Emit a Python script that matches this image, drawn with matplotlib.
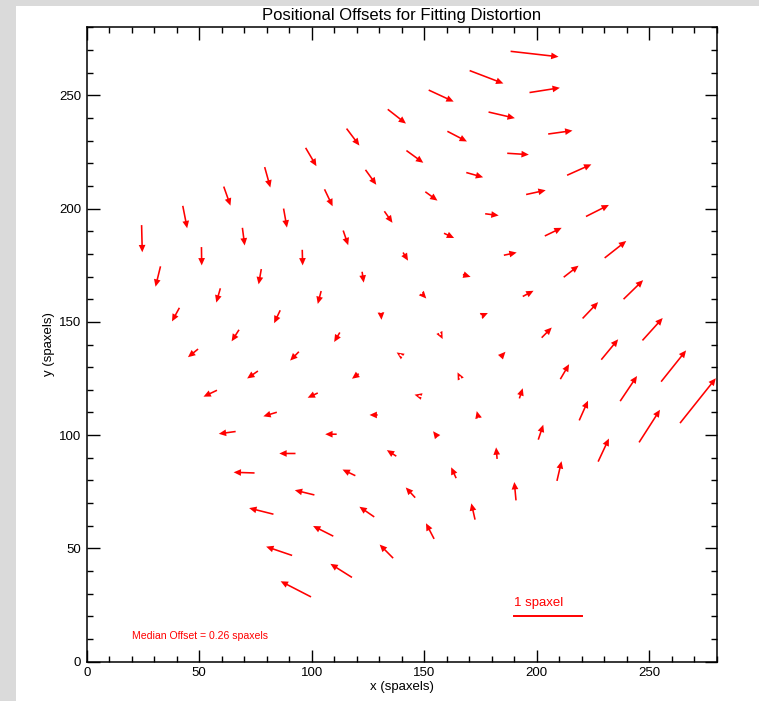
import matplotlib
matplotlib.use("Agg")
import matplotlib.pyplot as plt
import numpy as np
from matplotlib.patches import Rectangle
from matplotlib.ticker import MultipleLocator

plt.rcParams['font.family'] = ['Liberation Sans', 'DejaVu Sans']

# fibre positions (spaxels), one list per row of the rotated grid
x_rows = [
    [24.4, 42.7, 60.9, 79.1, 97.3, 115.5, 133.8, 152.0, 170.2, 188.4],
    [32.8, 51.0, 69.2, 87.5, 105.7, 123.9, 142.1, 160.3, 178.6, 196.8],
    [41.2, 59.4, 77.6, 95.8, 114.0, 132.3, 150.5, 168.7, 186.9, 205.1],
    [49.5, 67.7, 86.0, 104.2, 122.4, 140.6, 158.8, 177.1, 195.3, 213.5],
    [57.9, 76.1, 94.3, 112.5, 130.8, 149.0, 167.2, 185.4, 203.6, 221.9],
    [66.2, 84.5, 102.7, 120.9, 139.1, 157.3, 175.6, 193.8, 212.0, 230.2],
    [74.6, 92.8, 111.1, 129.3, 147.5, 165.7, 183.9, 202.2, 220.4, 238.6],
    [83.0, 101.2, 119.4, 137.6, 155.9, 174.1, 192.3, 210.5, 228.7, 247.0],
    [91.3, 109.6, 127.8, 146.0, 164.2, 182.4, 200.7, 218.9, 237.1, 255.3],
    [99.7, 117.9, 136.2, 154.4, 172.6, 190.8, 209.0, 227.3, 245.5, 263.7],
]
y_rows = [
    [192.7, 201.2, 209.7, 218.3, 226.8, 235.3, 243.8, 252.3, 260.9, 269.4],
    [174.5, 183.0, 191.5, 200.0, 208.5, 217.1, 225.6, 234.1, 242.6, 251.2],
    [156.2, 164.8, 173.3, 181.8, 190.3, 198.8, 207.4, 215.9, 224.4, 232.9],
    [138.0, 146.5, 155.1, 163.6, 172.1, 180.6, 189.1, 197.7, 206.2, 214.7],
    [119.8, 128.3, 136.8, 145.3, 153.9, 162.4, 170.9, 179.4, 187.9, 196.5],
    [101.6, 110.1, 118.6, 127.1, 135.6, 144.2, 152.7, 161.2, 169.7, 178.2],
    [83.3, 91.9, 100.4, 108.9, 117.4, 125.9, 134.4, 143.0, 151.5, 160.0],
    [65.1, 73.6, 82.1, 90.7, 99.2, 107.7, 116.2, 124.7, 133.3, 141.8],
    [46.9, 55.4, 63.9, 72.4, 81.0, 89.5, 98.0, 106.5, 115.0, 123.6],
    [28.6, 37.2, 45.7, 54.2, 62.7, 71.2, 79.8, 88.3, 96.8, 105.3],
]

# positional offsets (spaxels)
dx_rows = [
    [0.01, 0.065, 0.10, 0.084, 0.16, 0.19, 0.27, 0.37, 0.50, 0.71],
    [-0.074, 0.004, 0.034, 0.05, 0.12, 0.16, 0.25, 0.29, 0.39, 0.45],
    [-0.11, -0.06, -0.04, 0.006, 0.074, 0.12, 0.18, 0.25, 0.32, 0.36],
    [-0.15, -0.11, -0.09, -0.05, 0.024, 0.074, 0.15, 0.20, 0.29, 0.36],
    [-0.20, -0.16, -0.13, -0.084, 0.007, 0.064, 0.114, 0.19, 0.25, 0.34],
    [-0.25, -0.20, -0.15, -0.10, -0.045, 0.03, 0.09, 0.16, 0.22, 0.32],
    [-0.31, -0.24, -0.17, -0.12, -0.06, -0.03, 0.074, 0.15, 0.23, 0.29],
    [-0.36, -0.29, -0.19, -0.14, -0.065, -0.025, 0.05, 0.13, 0.25, 0.30],
    [-0.385, -0.30, -0.22, -0.14, -0.074, -0.015, 0.074, 0.13, 0.25, 0.37],
    [-0.45, -0.32, -0.20, -0.12, -0.055, -0.025, 0.068, 0.16, 0.31, 0.53],
]
dy_rows = [
    [-0.40, -0.33, -0.28, -0.30, -0.27, -0.25, -0.21, -0.17, -0.19, -0.08],
    [-0.30, -0.27, -0.26, -0.28, -0.25, -0.22, -0.18, -0.15, -0.09, 0.07],
    [-0.20, -0.21, -0.225, -0.23, -0.216, -0.17, -0.13, -0.07, -0.02, 0.05],
    [-0.12, -0.17, -0.19, -0.19, -0.16, -0.12, -0.07, -0.025, 0.063, 0.16],
    [-0.094, -0.11, -0.13, -0.14, -0.10, -0.07, -0.035, 0.04, 0.12, 0.17],
    [-0.034, -0.06, -0.07, -0.074, 0.03, -0.06, 0.04, 0.084, 0.17, 0.25],
    [0.01, 0.0, 0.0, 0.0, 0.015, 0.06, 0.08, 0.15, 0.24, 0.28],
    [0.09, 0.07, 0.09, 0.09, 0.084, 0.097, 0.15, 0.22, 0.30, 0.33],
    [0.13, 0.15, 0.15, 0.15, 0.16, 0.17, 0.22, 0.29, 0.37, 0.46],
    [0.23, 0.20, 0.20, 0.23, 0.24, 0.27, 0.29, 0.34, 0.48, 0.66],
]

median_offset = 0.26
arrow_scale = 30.0   # plot units drawn per spaxel of offset
bar_x = [190, 220]
bar_y = 20.3

x = np.array(x_rows).ravel()
y = np.array(y_rows).ravel()
dx = np.array(dx_rows).ravel()
dy = np.array(dy_rows).ravel()

fig = plt.figure(figsize=(7.59, 7.01), dpi=100)
fig.patch.set_facecolor('white')
# grey frame strips from the original window
fig.patches.append(Rectangle((0, 0), 16 / 759, 1, transform=fig.transFigure,
                             facecolor='#dadada', edgecolor='none', zorder=-1))
fig.patches.append(Rectangle((0, 1 - 6 / 701), 1, 6 / 701, transform=fig.transFigure,
                             facecolor='#dadada', edgecolor='none', zorder=-1))

ax = fig.add_axes([86.7 / 759, 1 - 661.7 / 701, 630 / 759, 634.4 / 701])

# fixed-size triangular heads, even on the shortest arrows
ax.quiver(x, y, dx, dy, angles='xy', scale_units='xy', scale=1 / arrow_scale,
          color='red', units='dots', width=1.6, headwidth=4.2, headlength=4.6,
          headaxislength=4.6, minshaft=0.01, minlength=0, clip_on=False)

# scale bar
ax.plot(bar_x, [bar_y, bar_y], color='red', lw=1.4)
ax.text(bar_x[0], 24.5, "1 spaxel", color='red', fontsize=9.5, ha='left', va='baseline')
ax.text(20, 11.5, f"Median Offset = {median_offset:.2f} spaxels", color='red',
        fontsize=7.6, ha='left', va='center')

ax.set_xlim(0, 280)
ax.set_ylim(0, 280)
ax.xaxis.set_major_locator(MultipleLocator(50))
ax.xaxis.set_minor_locator(MultipleLocator(10))
ax.yaxis.set_major_locator(MultipleLocator(50))
ax.yaxis.set_minor_locator(MultipleLocator(10))
ax.tick_params(which='both', direction='in', top=True, right=True, width=1)
ax.tick_params(which='major', length=9, labelsize=9.5, pad=4)
ax.tick_params(which='minor', length=4.3)
for s in ax.spines.values():
    s.set_linewidth(1.1)

ax.set_title("Positional Offsets for Fitting Distortion", fontsize=12, pad=5)
ax.set_xlabel("x (spaxels)", fontsize=9.5, labelpad=1)
ax.set_ylabel("y (spaxels)", fontsize=9.5, labelpad=3)

fig.savefig("out.png", dpi=100)
